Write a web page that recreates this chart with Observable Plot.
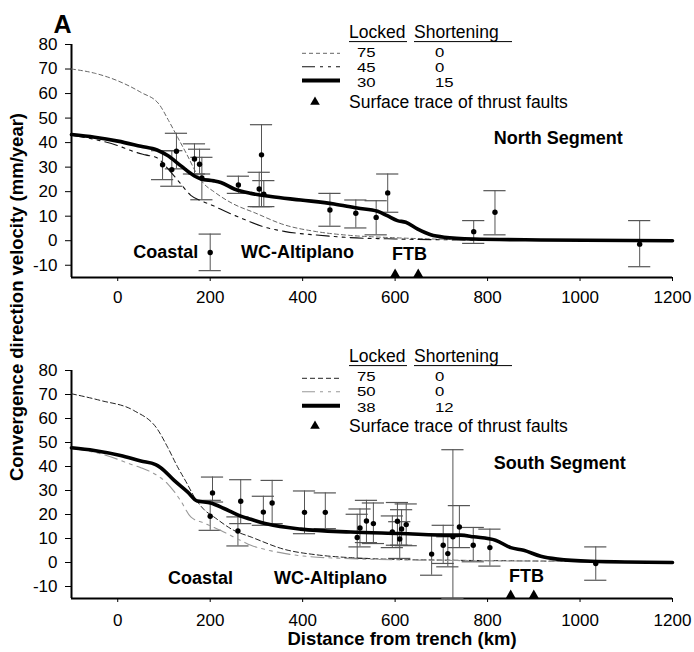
<!DOCTYPE html>
<html><head><meta charset="utf-8">
<script src="https://cdn.jsdelivr.net/npm/d3@7"></script>
<script src="https://cdn.jsdelivr.net/npm/@observablehq/plot@0.6"></script>
<style>
body{margin:0;background:#fff;}
#wrap{position:relative;width:694px;height:652px;font-family:"Liberation Sans",Arial,Helvetica,sans-serif;}
#wrap svg{display:block;}
#ylab{position:absolute;left:17px;top:297px;transform:translate(-50%,-50%) rotate(-90deg);white-space:nowrap;font-weight:bold;font-size:18.5px;color:#000;}
</style></head><body>
<div id="wrap"><div id="topPanel"></div><div id="botPanel"></div><div id="ylab">Convergence direction velocity (mm/year)</div></div>
<script>
// ---------- data ----------
const xTicks = [0, 200, 400, 600, 800, 1000, 1200];
const yTicks = [-10, 0, 10, 20, 30, 40, 50, 60, 70, 80];

// North segment model curves [distance km, velocity mm/yr]
const northLocked75 = [[-100,70],[-50,68.3],[0,65.2],[50,60.5],[90,55.5],[110,49],[130,42],[150,35],[170,27.6],[185,23.5],[208,20],[250,15],[295,11.5],[360,6.5],[430,3.7],[500,2.2],[600,1.2],[700,0.6],[850,0.2],[1200,0]];
const northLocked45 = [[-100,43],[-50,41.3],[0,38.8],[35,36.3],[60,35],[85,33.8],[110,29],[135,23.5],[158,18.5],[180,16.3],[200,14.8],[237,11.6],[280,8.2],[310,6],[360,3.8],[430,2.3],[500,1.3],[600,0.7],[700,0.4],[900,0.1],[1200,0]];
const northLocked30 = [[-100,43.3],[-50,42.2],[0,40.6],[50,38.5],[85,37],[108,34.7],[136,30.6],[165,26.5],[180,25.2],[208,24.4],[223,23.7],[252,21.1],[288,19.3],[331,18],[396,16.6],[468,15],[518,13.3],[562,12],[583,10.2],[605,8.2],[623,7.5],[648,4.8],[677,2.4],[706,1.4],[770,0.7],[915,0.3],[1200,0]];
// North observations
const northObsX  = [97, 117, 127, 166, 177, 182, 200, 261, 306, 311, 316, 459, 515, 559, 584, 770, 816, 1129];
const northObsV  = [31, 29, 36.5, 33.3, 31.2, 25.6, -4.8, 22.7, 21.1, 35, 19, 12.5, 11.2, 9.5, 19.5, 3.7, 11.6, -1.4];
const northObsHi = [36.7, 36.7, 43.8, 39.5, 37.3, 34, 2.7, 26.3, 27.9, 47.3, 24.5, 19.3, 16.6, 16.3, 27.2, 8.2, 20.4, 8.2];
const northObsLo = [24.9, 22.2, 29.3, 27.2, 27.2, 16.7, -12.2, 19.3, 13.9, 13.9, 13.9, 5.9, 5.2, 2.4, 11.6, -1.1, 2.4, -10.6];
const northFaults = [600, 650];
const northRegions = ["Coastal", "WC-Altiplano", "FTB"];
const northRegionX = [104, 389, 631];
const northRegionY = [-4.9, -4.9, -5.7];
const northLegend = [["75","0"],["45","0"],["30","15"]];

// South segment model curves
const southLocked75 = [[-100,70.3],[-37,67.5],[35,63.3],[86,55.5],[108,48],[129,40],[151,32.5],[165,27.5],[187,22],[208,19],[250,13.5],[290,10.5],[360,5.5],[430,3.2],[504,2],[600,1.3],[700,1],[850,0.7],[1000,0.5],[1200,0.4]];
const southLocked50 = [[-100,47.5],[-37,45.3],[35,40.5],[50,39.5],[79,37],[108,32.8],[136,25.8],[158,19],[187,16.4],[223,13.3],[266,9.2],[288,7.2],[324,5.2],[360,3.8],[396,2.8],[504,1.6],[648,1],[800,0.7],[1000,0.5],[1200,0.4]];
const southLocked38 = [[-100,47.8],[-51,46.7],[6,44.6],[50,42.3],[82,40.8],[93,39.5],[122,34.2],[151,29.4],[172,25.6],[201,24.8],[230,22.5],[266,19.3],[288,18],[324,16],[396,13.9],[504,12.7],[612,12.1],[720,11.4],[742,11.4],[770,10.7],[817,9.3],[850,6.2],[878,5.1],[915,2.6],[951,1.4],[1023,0.5],[1200,0]];
// South observations
const southObsX  = [205, 200, 266, 260, 315, 334, 404, 449, 518, 524, 538, 553, 594, 605, 610, 614, 624, 679, 704, 714, 725, 739, 769, 805, 1034];
const southObsV  = [29, 19.3, 25.5, 13.1, 21, 24.8, 20.9, 20.9, 10.4, 14.4, 17.3, 16.2, 12.7, 17.2, 9.8, 14, 15.8, 3.5, 7.2, 3.7, 10.7, 14.8, 7.2, 6.2, -0.4];
const southObsHi = [35.6, 25.9, 34.5, 19, 27.6, 34.2, 29.8, 29, 20.1, 22.3, 25.9, 24.8, 19.4, 25, 17, 22, 24.4, 11.8, 15.5, 10.7, 47, 23.7, 14.6, 13.9, 6.5];
const southObsLo = [25.2, 13.4, 16.2, 6.9, 15.5, 16.2, 12, 14.1, 1.7, 6.5, 8.3, 7.9, 6.2, 7.2, 1.7, 7.2, 7, -5.3, -0.4, -1.8, -15, 6.2, 0.3, -1.5, -7.4];
const southFaults = [850, 900];
const southRegions = ["Coastal", "WC-Altiplano", "FTB"];
const southRegionX = [179, 460, 884];
const southRegionY = [-6.5, -6.5, -5.7];
const southLegend = [["75","0"],["50","0"],["38","12"]];

// ---------- styles ----------
const FONT = '"Liberation Sans", Arial, Helvetica, sans-serif';
const stylesNorth = [
  {stroke:"#666", strokeWidth:1, strokeDasharray:"4,3"},
  {stroke:"#111", strokeWidth:1.1, strokeDasharray:"13,5,3,5,3,5"},
  {stroke:"#000", strokeWidth:3.6}
];
const stylesSouth = [
  {stroke:"#222", strokeWidth:1, strokeDasharray:"5,3"},
  {stroke:"#999", strokeWidth:1.1, strokeDasharray:"13,5,3,5,3,5"},
  {stroke:"#000", strokeWidth:3.6}
];

function makeObs(xs, vs, his, los) {
  return xs.map((x, i) => ({x, v: vs[i], hi: his[i], lo: los[i]}));
}

function panel(o) {
  const obs = makeObs(o.obsX, o.obsV, o.obsHi, o.obsLo);
  const regions = o.regions.map((t, i) => ({t, x: o.regionX[i], y: o.regionY[i]}));
  const cap = 24;
  const ebColor = "#555";
  const marks = [
    Plot.ruleX([-100], {stroke:"#000", strokeWidth:2}),
    Plot.ruleY([-15], {stroke:"#000", strokeWidth:2}),
    Plot.axisY({ticks: yTicks, tickSize: 6, tickPadding: 8, tickFormat: d => String(d), label: null, fontSize: 17}),
    Plot.axisX({ticks: xTicks, tickSize: 4, tickPadding: o.xPad, tickFormat: d => String(d), label: null, fontSize: 17}),
    Plot.ruleX(obs, {x:"x", y1:"lo", y2:"hi", stroke: ebColor, strokeWidth:1}),
    Plot.ruleY(obs, {y:"hi", x1: d => d.x - cap, x2: d => d.x + cap, stroke: ebColor, strokeWidth:1.2}),
    Plot.ruleY(obs, {y:"lo", x1: d => d.x - cap, x2: d => d.x + cap, stroke: ebColor, strokeWidth:1.2}),
  ];
  o.curves.forEach((c, i) => {
    marks.push(Plot.line(c, {x: d => d[0], y: d => d[1], curve: "monotone-x", ...o.styles[i]}));
  });
  marks.push(
    Plot.dot(obs, {x:"x", y:"v", r:2.7, fill:"#000", stroke:"none"}),
    Plot.dot(o.faults, {x: d => d, y: () => -15, symbol:"triangle", r:3.8, fill:"#000", dy:-3}),
    Plot.text(regions, {x:"x", y:"y", text:"t", fontWeight:"bold", fontSize:18, fill:"#000"}),
    Plot.text([o.segment], {x: () => o.segX, y: () => o.segY, text: d => d, fontWeight:"bold", fontSize:18, fill:"#000"})
  );
  if (o.extra) marks.push(...o.extra);
  return Plot.plot({
    width: 694, height: o.height,
    marginLeft: 71, marginRight: 22, marginTop: o.mt, marginBottom: o.mb,
    x: {domain: [-100, 1200], axis: null},
    y: {domain: [-15, 80], axis: null},
    style: {fontFamily: FONT, fontSize: "17px", color: "#000", background: "#fff"},
    marks
  });
}

function addLegend(svg, rows, styles, g) {
  const s = d3.select(svg);
  const L = s.append("g").attr("font-family", FONT).attr("font-size", 17.5).attr("fill", "#000").attr("text-anchor", "start");
  L.append("text").attr("x", 349).attr("y", g.header).text("Locked");
  L.append("text").attr("x", 414).attr("y", g.header).text("Shortening");
  L.append("line").attr("x1", 349).attr("x2", 407).attr("y1", g.header + 3.6).attr("y2", g.header + 3.6).attr("stroke", "#000").attr("stroke-width", 1);
  L.append("line").attr("x1", 414).attr("x2", 512).attr("y1", g.header + 3.6).attr("y2", g.header + 3.6).attr("stroke", "#000").attr("stroke-width", 1);
  rows.forEach((r, i) => {
    const st = styles[i];
    L.append("line").attr("x1", 302).attr("x2", 340).attr("y1", g.lines[i]).attr("y2", g.lines[i])
      .attr("stroke", st.stroke).attr("stroke-width", i === 2 ? 4 : st.strokeWidth)
      .attr("stroke-dasharray", st.strokeDasharray || null);
    L.append("text").attr("transform", `translate(357,${g.rows[i]}) scale(1.25,1)`).attr("font-size", 13.4).text(r[0]);
    L.append("text").attr("transform", `translate(435,${g.rows[i]}) scale(1.25,1)`).attr("font-size", 13.4).text(r[1]);
  });
  L.append("path").attr("d", d3.symbol(d3.symbolTriangle, 40)()).attr("transform", `translate(315,${g.tri})`).attr("fill", "#000");
  L.append("text").attr("x", 349).attr("y", g.surf).text("Surface trace of thrust faults");
}

const topPlot = panel({
  height: 320, mt: 44, mb: 43, xPad: 9,
  curves: [northLocked75, northLocked45, northLocked30], styles: stylesNorth,
  obsX: northObsX, obsV: northObsV, obsHi: northObsHi, obsLo: northObsLo,
  faults: northFaults, regions: northRegions, regionX: northRegionX, regionY: northRegionY,
  segment: "North Segment", segX: 953, segY: 41.6,
  extra: [Plot.text(["A"], {frameAnchor: "top-left", textAnchor: "middle", lineAnchor: "middle", dx: -9, dy: -20, fontSize: 25, fontWeight: "bold", fill: "#000"})]
});
addLegend(topPlot, northLegend, stylesNorth, {header: 38, lines: [53.3, 66.7, 80.5], rows: [56.5, 71.8, 87.1], tri: 102, surf: 108});
document.getElementById("topPanel").appendChild(topPlot);

const botPlot = panel({
  height: 332, mt: 50, mb: 54, xPad: 11,
  curves: [southLocked75, southLocked50, southLocked38], styles: stylesSouth,
  obsX: southObsX, obsV: southObsV, obsHi: southObsHi, obsLo: southObsLo,
  faults: southFaults, regions: southRegions, regionX: southRegionX, regionY: southRegionY,
  segment: "South Segment", segX: 956, segY: 41.3,
  extra: [Plot.text(["Distance from trench (km)"], {frameAnchor: "bottom", textAnchor: "middle", lineAnchor: "middle", dx: 30, dy: 41, fontSize: 18.5, fontWeight: "bold", fill: "#000"})]
});
addLegend(botPlot, southLegend, stylesSouth, {header: 42, lines: [58.3, 71.7, 85.7], rows: [61, 76.3, 91.6], tri: 106, surf: 112});
document.getElementById("botPanel").appendChild(botPlot);
</script>
</body></html>
